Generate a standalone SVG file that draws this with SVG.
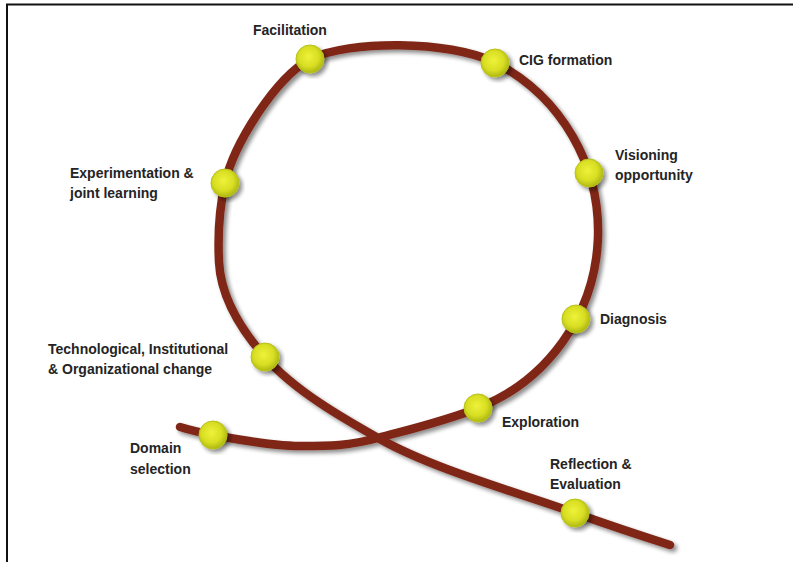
<svg xmlns="http://www.w3.org/2000/svg" width="793" height="562" viewBox="0 0 793 562">
  <defs>
    <filter id="shadow" x="-20%" y="-20%" width="140%" height="140%">
      <feGaussianBlur in="SourceAlpha" stdDeviation="2.2"/>
      <feOffset dx="3" dy="3" result="b"/>
      <feComponentTransfer><feFuncA type="linear" slope="0.45"/></feComponentTransfer>
      <feMerge><feMergeNode/><feMergeNode in="SourceGraphic"/></feMerge>
    </filter>
    <radialGradient id="dotGrad" cx="0.45" cy="0.42" r="0.6">
      <stop offset="0" stop-color="#eef23a"/>
      <stop offset="0.6" stop-color="#d8de22"/>
      <stop offset="1" stop-color="#a9b312"/>
    </radialGradient>
  </defs>
  <style>
    .frame { stroke: #111; stroke-width: 2; fill: none; }
    .track { fill: none; stroke: #7f2818; stroke-width: 8.5; stroke-linecap: round; stroke-linejoin: round; }
    .dot { fill: url(#dotGrad); stroke: #b8c21a; stroke-width: 1; }
    .lbl { font-family: "Liberation Sans", Arial, sans-serif; font-weight: bold; font-size: 14px; fill: #242424; }
  </style>
  <rect x="0" y="0" width="793" height="562" fill="#ffffff"/>
  <path class="frame" d="M7,562 V4.5 H793"/>

  <g id="connectors" filter="url(#shadow)">
    <path class="track" d="M180,427 C190,430 203,433 213,435 C240,440 275,446 300,446 C330,446 349,445.8 378,438 C411.6,428.9 445.4,421 478,408 A190,190 0 0 0 495,62.4 C448,40 350,40 310,59 C275,78.6 233.8,144 225,183 C218.8,210.3 217.6,234 219,262 C220.8,297 241.9,330.8 265,357 C294.7,390.8 343.2,418.4 378,438 C434.6,469.9 518.6,492.6 575,513 C603,523 645,537 670,545"/>
  </g>

  <g id="node-facilitation">
    <circle class="dot" cx="310" cy="59" r="14" filter="url(#shadow)"/>
    <text class="lbl" x="253" y="35">Facilitation</text>
  </g>
  <g id="node-cig">
    <circle class="dot" cx="495" cy="63" r="14" filter="url(#shadow)"/>
    <text class="lbl" x="519" y="65">CIG formation</text>
  </g>
  <g id="node-visioning">
    <circle class="dot" cx="589" cy="173" r="14" filter="url(#shadow)"/>
    <text class="lbl" x="615" y="160">Visioning</text>
    <text class="lbl" x="615" y="180">opportunity</text>
  </g>
  <g id="node-diagnosis">
    <circle class="dot" cx="576" cy="319" r="14" filter="url(#shadow)"/>
    <text class="lbl" x="600" y="324">Diagnosis</text>
  </g>
  <g id="node-exploration">
    <circle class="dot" cx="478" cy="408" r="14" filter="url(#shadow)"/>
    <text class="lbl" x="502" y="427">Exploration</text>
  </g>
  <g id="node-reflection">
    <circle class="dot" cx="575" cy="513" r="14" filter="url(#shadow)"/>
    <text class="lbl" x="550" y="469">Reflection &amp;</text>
    <text class="lbl" x="550" y="489">Evaluation</text>
  </g>
  <g id="node-domain">
    <circle class="dot" cx="213" cy="435" r="14" filter="url(#shadow)"/>
    <text class="lbl" x="130" y="453">Domain</text>
    <text class="lbl" x="130" y="474">selection</text>
  </g>
  <g id="node-technological">
    <circle class="dot" cx="265" cy="357" r="14" filter="url(#shadow)"/>
    <text class="lbl" x="48" y="354">Technological, Institutional</text>
    <text class="lbl" x="48" y="374">&amp; Organizational change</text>
  </g>
  <g id="node-experimentation">
    <circle class="dot" cx="225" cy="183" r="14" filter="url(#shadow)"/>
    <text class="lbl" x="70" y="178">Experimentation &amp;</text>
    <text class="lbl" x="70" y="198">joint learning</text>
  </g>
</svg>
